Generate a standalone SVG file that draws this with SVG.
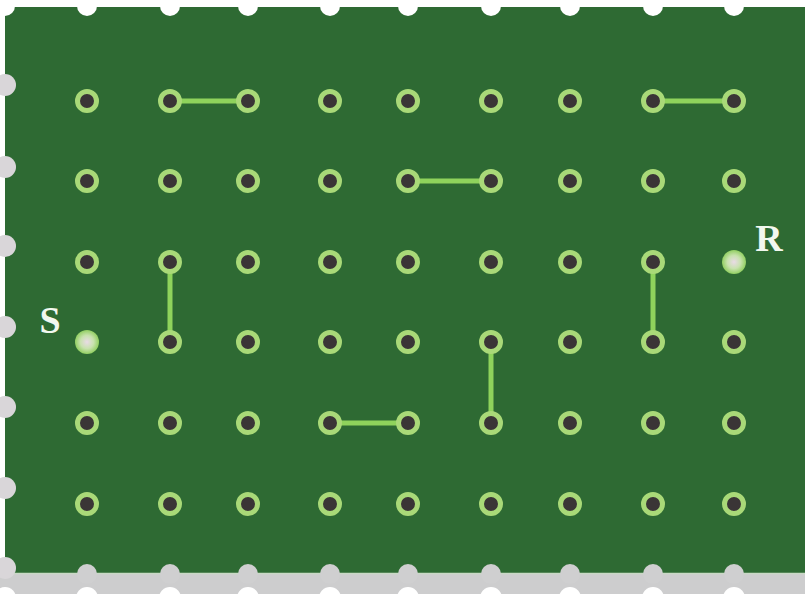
<svg xmlns="http://www.w3.org/2000/svg" width="805" height="594" viewBox="0 0 805 594">
<defs>
<style>
.hole{fill:#ffffff}
.edge{fill:#d9d6d9}
.bump{fill:#cfcfd0}
.pad{fill:#3a3536;stroke:#a9d978;stroke-width:5}
.term{fill:url(#tg)}
.trace{stroke:#8fd35c;stroke-width:5;stroke-linecap:butt;fill:none}
.lbl{font-family:"Liberation Serif","DejaVu Serif",serif;font-weight:bold;font-size:38px;fill:#f2f8ef;text-anchor:middle}
</style>
<radialGradient id="tg" cx="0.5" cy="0.5" r="0.5">
<stop offset="0" stop-color="#e9dbe6"/>
<stop offset="0.55" stop-color="#c8e2ae"/>
<stop offset="1" stop-color="#92cf62"/>
</radialGradient>
</defs>
<rect x="0" y="0" width="805" height="594" fill="#ffffff"/>
<rect x="5" y="7" width="800" height="566" fill="#2e6a33"/>
<rect x="0" y="573" width="805" height="21" fill="#cdcdce"/>
<line x1="5" y1="573.5" x2="805" y2="573.5" stroke="#c9d9c5" stroke-width="1.5"/>
<g id="board-edges">
<g class="hole">
<circle cx="5" cy="6" r="10"/><circle cx="87" cy="6" r="10"/><circle cx="170" cy="6" r="10"/><circle cx="248" cy="6" r="10"/><circle cx="330" cy="6" r="10"/><circle cx="408" cy="6" r="10"/><circle cx="491" cy="6" r="10"/><circle cx="570" cy="6" r="10"/><circle cx="653" cy="6" r="10"/><circle cx="734" cy="6" r="10"/><circle cx="816" cy="6" r="10"/>
</g>
<g class="edge">
<circle cx="5" cy="85" r="11"/><circle cx="5" cy="167" r="11"/><circle cx="5" cy="246" r="11"/><circle cx="5" cy="327" r="11"/><circle cx="5" cy="407" r="11"/><circle cx="5" cy="488" r="11"/><circle cx="5" cy="568" r="11"/>
<circle cx="817" cy="85" r="11"/><circle cx="817" cy="165" r="11"/><circle cx="817" cy="245" r="11"/><circle cx="817" cy="327" r="11"/><circle cx="817" cy="407" r="11"/><circle cx="817" cy="488" r="11"/>
</g>
<g class="bump">
<circle cx="87" cy="574" r="10"/><circle cx="170" cy="574" r="10"/><circle cx="248" cy="574" r="10"/><circle cx="330" cy="574" r="10"/><circle cx="408" cy="574" r="10"/><circle cx="491" cy="574" r="10"/><circle cx="570" cy="574" r="10"/><circle cx="653" cy="574" r="10"/><circle cx="734" cy="574" r="10"/>
</g>
<g class="hole">
<circle cx="5" cy="598" r="11"/><circle cx="87" cy="598" r="11"/><circle cx="170" cy="598" r="11"/><circle cx="248" cy="598" r="11"/><circle cx="330" cy="598" r="11"/><circle cx="408" cy="598" r="11"/><circle cx="491" cy="598" r="11"/><circle cx="570" cy="598" r="11"/><circle cx="653" cy="598" r="11"/><circle cx="734" cy="598" r="11"/>
</g>
</g>
<g id="connectors" class="trace">
<line x1="170" y1="101" x2="248" y2="101"/>
<line x1="653" y1="101" x2="734" y2="101"/>
<line x1="408" y1="181" x2="491" y2="181"/>
<line x1="170" y1="262" x2="170" y2="342"/>
<line x1="653" y1="262" x2="653" y2="342"/>
<line x1="491" y1="342" x2="491" y2="423"/>
<line x1="330" y1="423" x2="408" y2="423"/>
</g>
<g id="nodes">
<g id="n-1-1"><circle class="pad" cx="87" cy="101" r="9.5"/></g>
<g id="n-1-2"><circle class="pad" cx="170" cy="101" r="9.5"/></g>
<g id="n-1-3"><circle class="pad" cx="248" cy="101" r="9.5"/></g>
<g id="n-1-4"><circle class="pad" cx="330" cy="101" r="9.5"/></g>
<g id="n-1-5"><circle class="pad" cx="408" cy="101" r="9.5"/></g>
<g id="n-1-6"><circle class="pad" cx="491" cy="101" r="9.5"/></g>
<g id="n-1-7"><circle class="pad" cx="570" cy="101" r="9.5"/></g>
<g id="n-1-8"><circle class="pad" cx="653" cy="101" r="9.5"/></g>
<g id="n-1-9"><circle class="pad" cx="734" cy="101" r="9.5"/></g>
<g id="n-2-1"><circle class="pad" cx="87" cy="181" r="9.5"/></g>
<g id="n-2-2"><circle class="pad" cx="170" cy="181" r="9.5"/></g>
<g id="n-2-3"><circle class="pad" cx="248" cy="181" r="9.5"/></g>
<g id="n-2-4"><circle class="pad" cx="330" cy="181" r="9.5"/></g>
<g id="n-2-5"><circle class="pad" cx="408" cy="181" r="9.5"/></g>
<g id="n-2-6"><circle class="pad" cx="491" cy="181" r="9.5"/></g>
<g id="n-2-7"><circle class="pad" cx="570" cy="181" r="9.5"/></g>
<g id="n-2-8"><circle class="pad" cx="653" cy="181" r="9.5"/></g>
<g id="n-2-9"><circle class="pad" cx="734" cy="181" r="9.5"/></g>
<g id="n-3-1"><circle class="pad" cx="87" cy="262" r="9.5"/></g>
<g id="n-3-2"><circle class="pad" cx="170" cy="262" r="9.5"/></g>
<g id="n-3-3"><circle class="pad" cx="248" cy="262" r="9.5"/></g>
<g id="n-3-4"><circle class="pad" cx="330" cy="262" r="9.5"/></g>
<g id="n-3-5"><circle class="pad" cx="408" cy="262" r="9.5"/></g>
<g id="n-3-6"><circle class="pad" cx="491" cy="262" r="9.5"/></g>
<g id="n-3-7"><circle class="pad" cx="570" cy="262" r="9.5"/></g>
<g id="n-3-8"><circle class="pad" cx="653" cy="262" r="9.5"/></g>
<g id="node-R"><circle class="term" cx="734" cy="262" r="12"/><text class="lbl" x="769" y="251">R</text></g>
<g id="node-S"><circle class="term" cx="87" cy="342" r="12"/><text class="lbl" x="50" y="333">S</text></g>
<g id="n-4-2"><circle class="pad" cx="170" cy="342" r="9.5"/></g>
<g id="n-4-3"><circle class="pad" cx="248" cy="342" r="9.5"/></g>
<g id="n-4-4"><circle class="pad" cx="330" cy="342" r="9.5"/></g>
<g id="n-4-5"><circle class="pad" cx="408" cy="342" r="9.5"/></g>
<g id="n-4-6"><circle class="pad" cx="491" cy="342" r="9.5"/></g>
<g id="n-4-7"><circle class="pad" cx="570" cy="342" r="9.5"/></g>
<g id="n-4-8"><circle class="pad" cx="653" cy="342" r="9.5"/></g>
<g id="n-4-9"><circle class="pad" cx="734" cy="342" r="9.5"/></g>
<g id="n-5-1"><circle class="pad" cx="87" cy="423" r="9.5"/></g>
<g id="n-5-2"><circle class="pad" cx="170" cy="423" r="9.5"/></g>
<g id="n-5-3"><circle class="pad" cx="248" cy="423" r="9.5"/></g>
<g id="n-5-4"><circle class="pad" cx="330" cy="423" r="9.5"/></g>
<g id="n-5-5"><circle class="pad" cx="408" cy="423" r="9.5"/></g>
<g id="n-5-6"><circle class="pad" cx="491" cy="423" r="9.5"/></g>
<g id="n-5-7"><circle class="pad" cx="570" cy="423" r="9.5"/></g>
<g id="n-5-8"><circle class="pad" cx="653" cy="423" r="9.5"/></g>
<g id="n-5-9"><circle class="pad" cx="734" cy="423" r="9.5"/></g>
<g id="n-6-1"><circle class="pad" cx="87" cy="504" r="9.5"/></g>
<g id="n-6-2"><circle class="pad" cx="170" cy="504" r="9.5"/></g>
<g id="n-6-3"><circle class="pad" cx="248" cy="504" r="9.5"/></g>
<g id="n-6-4"><circle class="pad" cx="330" cy="504" r="9.5"/></g>
<g id="n-6-5"><circle class="pad" cx="408" cy="504" r="9.5"/></g>
<g id="n-6-6"><circle class="pad" cx="491" cy="504" r="9.5"/></g>
<g id="n-6-7"><circle class="pad" cx="570" cy="504" r="9.5"/></g>
<g id="n-6-8"><circle class="pad" cx="653" cy="504" r="9.5"/></g>
<g id="n-6-9"><circle class="pad" cx="734" cy="504" r="9.5"/></g>
</g>
</svg>
